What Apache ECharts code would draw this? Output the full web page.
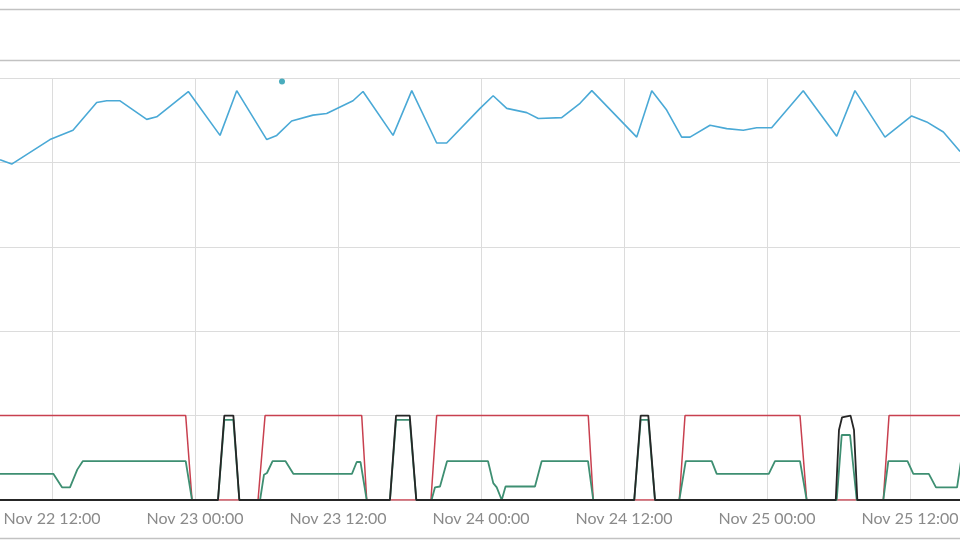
<!DOCTYPE html>
<html><head><meta charset="utf-8">
<script src="https://cdn.jsdelivr.net/npm/echarts@6/dist/echarts.min.js"></script>
<style>html,body{margin:0;padding:0;overflow:hidden;background:#fff;width:960px;height:550px;position:relative}#c{position:absolute;left:-91px;top:0;width:1144px;height:550px}</style>
</head><body><div id="c"></div>
<script>
// x values: hours since Nov 22 00:00
const xTickLabels = ['Nov 22 00:00','Nov 22 12:00','Nov 23 00:00','Nov 23 12:00','Nov 24 00:00','Nov 24 12:00','Nov 25 00:00','Nov 25 12:00','Nov 26 00:00'];

const blueHours  = [7.64,8.62,11.83,13.76,15.75,16.59,17.71,19.95,20.79,23.44,26.10,27.50,30.02,30.86,32.11,33.90,35.05,37.26,38.10,40.62,42.19,44.28,45.12,47.92,49.02,50.16,51.84,52.81,54.77,56.31,57.30,61.07,62.33,63.58,64.84,65.54,67.22,68.62,70.01,71.13,72.39,75.04,77.85,79.38,81.90,84.14,85.40,86.80,88.20];
const blueValues = [4.03,3.98,4.27,4.38,4.71,4.73,4.73,4.51,4.54,4.84,4.32,4.85,4.27,4.32,4.49,4.56,4.58,4.73,4.84,4.32,4.85,4.23,4.23,4.64,4.79,4.64,4.59,4.52,4.53,4.70,4.85,4.30,4.85,4.62,4.30,4.30,4.44,4.40,4.38,4.41,4.41,4.85,4.31,4.85,4.30,4.55,4.48,4.36,4.13];

const dotHours  = [31.30];
const dotValues = [4.96];

const redHours  = [6.0,23.22,23.75,29.29,29.88,37.99,38.41,43.80,44.28,57.00,57.42,64.64,65.12,74.77,75.33,81.76,82.24,90.0];
const redValues = [1,1,0,0,1,1,0,0,1,1,0,0,1,1,0,0,1,1];

const blackHours  = [6.0,25.93,26.46,27.22,27.72,40.36,40.87,42.02,42.57,60.86,61.40,62.04,62.60,77.77,78.04,78.30,79.01,79.30,79.58,90.0];
const blackValues = [0,0,1,1,0,0,1,1,0,0,1,1,0,0,0.83,0.98,1,0.83,0,0];

const greenHours  = [6.0,12.11,12.84,13.51,14.12,14.58,23.22,23.75,25.93,26.46,27.22,27.72,29.46,29.79,30.04,30.51,31.60,32.25,37.17,37.57,37.89,38.41,40.36,40.87,42.02,42.57,43.85,44.14,44.56,45.15,48.59,49.03,49.32,49.74,50.06,52.53,53.09,56.98,57.42,60.86,61.40,62.04,62.60,64.64,65.18,67.36,67.78,72.15,72.67,74.77,75.33,77.85,78.27,78.97,79.53,81.76,82.18,83.79,84.28,85.58,86.18,87.95,88.28,90.0];
const greenValues = [0.31,0.31,0.15,0.15,0.36,0.46,0.46,0,0,0.95,0.95,0,0,0.30,0.32,0.46,0.46,0.31,0.31,0.45,0.45,0,0,0.95,0.95,0,0,0.15,0.16,0.46,0.46,0.20,0.15,0,0.16,0.16,0.46,0.46,0,0,0.95,0.95,0,0,0.46,0.46,0.31,0.31,0.46,0.46,0,0,0.77,0.77,0,0,0.46,0.46,0.31,0.31,0.15,0.15,0.46,0.46];

const pair = (xs, ys) => xs.map((x, i) => [x, ys[i]]);

const chart = echarts.init(document.getElementById('c'), null, {renderer: 'canvas'});
const lineBase = {type: 'line', showSymbol: false, symbol: 'none', animation: false};
chart.setOption({
  animation: false,
  backgroundColor: '#ffffff',
  grid: {left: 0, right: 0, top: 78, bottom: 50, containLabel: false, outerBoundsMode: 'none'},
  xAxis: {
    type: 'value', min: 0, max: 96, interval: 12,
    axisLine: {show: false}, axisTick: {show: false},
    splitLine: {show: true, lineStyle: {color: '#dcdcdc', width: 1}},
    axisLabel: {
      color: '#8a8a8a', fontFamily: 'Lato', fontSize: 16, margin: 11,
      formatter: v => xTickLabels[Math.round(v / 12)] || ''
    }
  },
  yAxis: {
    type: 'value', min: 0, max: 5, interval: 1,
    axisLine: {show: false}, axisTick: {show: false}, axisLabel: {show: false},
    splitLine: {show: true, lineStyle: {color: '#dcdcdc', width: 1}}
  },
  graphic: [
    {type: 'line', shape: {x1: 91, y1: 9.5, x2: 1051, y2: 9.5}, style: {stroke: '#c2c2c2', lineWidth: 1.5}},
    {type: 'line', shape: {x1: 91, y1: 60.5, x2: 1051, y2: 60.5}, style: {stroke: '#c2c2c2', lineWidth: 1.5}},
    {type: 'line', shape: {x1: 91, y1: 538.5, x2: 1051, y2: 538.5}, style: {stroke: '#c2c2c2', lineWidth: 1.5}}
  ],
  series: [
    Object.assign({}, lineBase, {name: 'red', data: pair(redHours, redValues), lineStyle: {color: '#c8404f', width: 1.5}, z: 2}),
    Object.assign({}, lineBase, {name: 'green', data: pair(greenHours, greenValues), lineStyle: {color: '#3e8f72', width: 1.8}, z: 3}),
    Object.assign({}, lineBase, {name: 'black', data: pair(blackHours, blackValues), lineStyle: {color: '#262626', width: 1.8}, z: 4}),
    Object.assign({}, lineBase, {name: 'blue', data: pair(blueHours, blueValues), lineStyle: {color: '#4aa9d6', width: 1.6}, z: 5}),
    {type: 'scatter', name: 'dot', data: pair(dotHours, dotValues), symbolSize: 6, itemStyle: {color: '#1b97ad'}, z: 6, animation: false}
  ]
});
</script></body></html>
